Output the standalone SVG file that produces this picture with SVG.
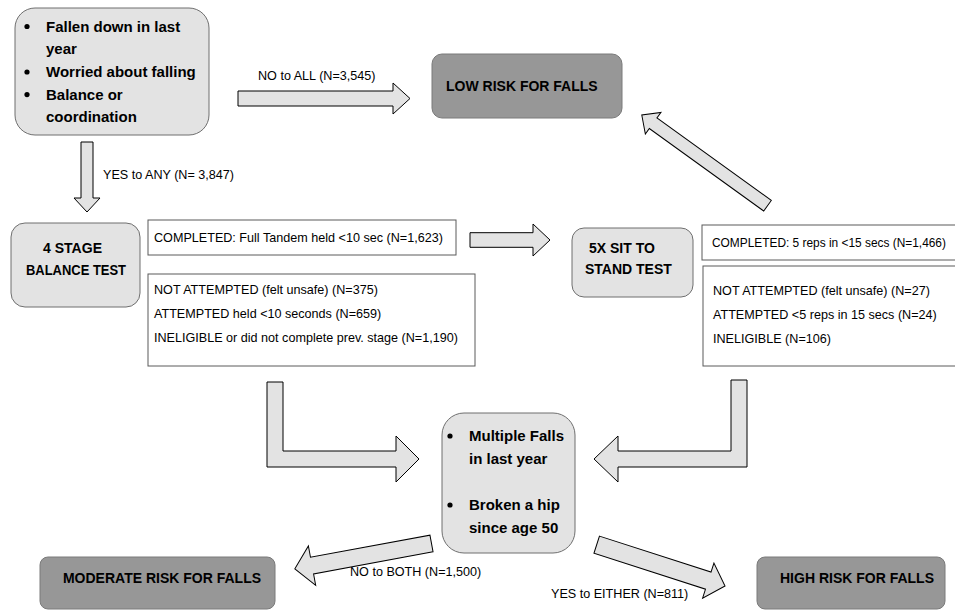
<svg xmlns="http://www.w3.org/2000/svg" width="955" height="610" viewBox="0 0 955 610">
<style>
.lbox{fill:#e3e3e3;stroke:#6f6f6f;stroke-width:1}
.dbox{fill:#979797;stroke:#7a7a7a;stroke-width:1}
.tbox{fill:#ffffff;stroke:#5a5a5a;stroke-width:1}
.arr{fill:#e3e3e3;stroke:#000000;stroke-width:1;stroke-linejoin:miter}
.b{font-family:"Liberation Sans",Arial,sans-serif;font-weight:bold;fill:#000}
.r{font-family:"Liberation Sans",Arial,sans-serif;font-size:12.6px;fill:#000}
.dot{fill:#000}
</style>
<rect width="955" height="610" fill="#ffffff"/>

<g id="connectors">
  <polygon class="arr" points="238,91 393,91 393,83 410,98.5 393,114 393,106 238,106"/>
  <polygon class="arr" points="81,142 93,142 93,198 100,198 87,212 74,198 81,198"/>
  <polygon class="arr" points="470,232.7 533,232.7 533,224 550,240 533,256 533,247.3 470,247.3"/>
  <polygon class="arr" transform="translate(767.5,205.7) rotate(-144.2)" points="0,-6.5 141,-6.5 141,-13.3 155,0 141,13.3 141,6.5 0,6.5"/>
  <polygon class="arr" points="267,382 283,382 283,451 396,451 396,436 419,459 396,482 396,467 267,467"/>
  <polygon class="arr" points="731,380 747,380 747,467 618,467 618,482 594,459 618,436 618,451 731,451"/>
  <polygon class="arr" transform="translate(431.5,543.5) rotate(169.5)" points="0,-8.5 121.5,-8.5 121.5,-20 139,0 121.5,20 121.5,8.5 0,8.5"/>
  <polygon class="arr" transform="translate(596.7,544.7) rotate(17.84)" points="0,-9 117.2,-9 117.2,-18.5 134.8,0 117.2,18.5 117.2,9 0,9"/>
  <text class="r" x="258" y="80">NO to ALL (N=3,545)</text>
  <text class="r" x="103" y="179">YES to ANY (N= 3,847)</text>
  <text class="r" x="350" y="576">NO to BOTH (N=1,500)</text>
  <text class="r" x="551" y="598">YES to EITHER (N=811)</text>
</g>

<g id="screening">
  <rect class="lbox" x="15" y="8" width="194" height="127" rx="20"/>
  <circle class="dot" cx="27" cy="26.5" r="2.6"/>
  <circle class="dot" cx="27" cy="72" r="2.6"/>
  <circle class="dot" cx="27" cy="94.6" r="2.6"/>
  <text class="b" font-size="15" x="46" y="31.5">Fallen down in last</text>
  <text class="b" font-size="15" x="46" y="54.2">year</text>
  <text class="b" font-size="15" x="46" y="76.9">Worried about falling</text>
  <text class="b" font-size="15" x="46" y="99.6">Balance or</text>
  <text class="b" font-size="15" x="46" y="122.3">coordination</text>
</g>

<g id="low-risk">
  <rect class="dbox" x="432" y="54" width="190" height="64" rx="10"/>
  <text class="b" font-size="14" x="446" y="91">LOW RISK FOR FALLS</text>
</g>

<g id="balance-test">
  <rect class="lbox" x="11" y="223" width="129" height="84" rx="14"/>
  <text class="b" font-size="14" x="43" y="253" textLength="59" lengthAdjust="spacingAndGlyphs">4 STAGE</text>
  <text class="b" font-size="14" x="26" y="274.5" textLength="100" lengthAdjust="spacingAndGlyphs">BALANCE TEST</text>
</g>

<g id="balance-completed">
  <rect class="tbox" x="148" y="220" width="308" height="35"/>
  <text class="r" x="154" y="242">COMPLETED: Full Tandem held &lt;10 sec (N=1,623)</text>
</g>

<g id="balance-other">
  <rect class="tbox" x="148" y="274" width="327" height="92"/>
  <text class="r" x="154" y="293.5">NOT ATTEMPTED (felt unsafe) (N=375)</text>
  <text class="r" x="154" y="317.5">ATTEMPTED held &lt;10 seconds (N=659)</text>
  <text class="r" x="154" y="341.5">INELIGIBLE or did not complete prev. stage (N=1,190)</text>
</g>

<g id="sit-stand-test">
  <rect class="lbox" x="572" y="228" width="121" height="69" rx="12"/>
  <text class="b" font-size="14" x="589" y="253">5X SIT TO</text>
  <text class="b" font-size="14" x="585" y="274">STAND TEST</text>
</g>

<g id="sit-stand-completed">
  <rect class="tbox" x="702" y="225" width="260" height="35"/>
  <text class="r" x="712" y="247" style="font-size:11.9px">COMPLETED: 5 reps in &lt;15 secs (N=1,466)</text>
</g>

<g id="sit-stand-other">
  <rect class="tbox" x="703" y="266" width="260" height="100"/>
  <text class="r" x="713" y="294.5">NOT ATTEMPTED (felt unsafe) (N=27)</text>
  <text class="r" x="713" y="318.5">ATTEMPTED &lt;5 reps in 15 secs (N=24)</text>
  <text class="r" x="713" y="342.5">INELIGIBLE (N=106)</text>
</g>

<g id="history">
  <rect class="lbox" x="442" y="413" width="133" height="140" rx="22"/>
  <circle class="dot" cx="450" cy="436" r="2.6"/>
  <circle class="dot" cx="450" cy="505" r="2.6"/>
  <text class="b" font-size="15" x="469" y="441">Multiple Falls</text>
  <text class="b" font-size="15" x="469" y="464">in last year</text>
  <text class="b" font-size="15" x="469" y="510">Broken a hip</text>
  <text class="b" font-size="15" x="469" y="533">since age 50</text>
</g>

<g id="moderate-risk">
  <rect class="dbox" x="40" y="557" width="235" height="52" rx="8"/>
  <text class="b" font-size="14" x="162" y="583" text-anchor="middle">MODERATE RISK FOR FALLS</text>
</g>

<g id="high-risk">
  <rect class="dbox" x="757" y="557" width="188" height="52" rx="8"/>
  <text class="b" font-size="14" x="857" y="583" text-anchor="middle">HIGH RISK FOR FALLS</text>
</g>
</svg>
